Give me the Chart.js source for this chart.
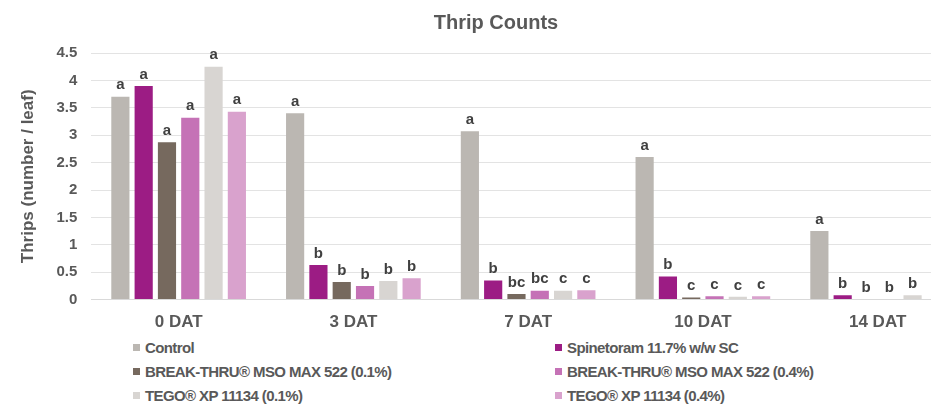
<!DOCTYPE html>
<html>
<head>
<meta charset="utf-8">
<script src="https://cdn.jsdelivr.net/npm/chart.js@4.4.0/dist/chart.umd.min.js"></script>
<style>
  html, body { margin: 0; padding: 0; background: #fff; overflow: hidden; }
  body { width: 931px; height: 407px; position: relative; }
  #wrap { position: absolute; left: 0; top: 0; width: 975px; height: 338px; }
  #title {
    position: absolute; left: 0; top: 11px; width: 992px; text-align: center;
    font: bold 20px "Liberation Sans", Arial, sans-serif; color: #595959;
  }
  .leg {
    position: absolute; font: bold 15px "Liberation Sans", Arial, sans-serif;
    letter-spacing: -0.6px; color: #595959; white-space: nowrap; line-height: 18px;
  }
  .leg i { display: inline-block; width: 7px; height: 7px; margin-right: 5px; vertical-align: 2px; }
</style>
</head>
<body>
<div id="wrap"><canvas id="chart"></canvas></div>
<div id="title">Thrip Counts</div>
<div id="legend"></div>
<script>
  // categories and series (thrips per leaf)
  const categories = ["0 DAT", "3 DAT", "7 DAT", "10 DAT", "14 DAT"];
  const seriesNames = [
    "Control",
    "Spinetoram 11.7% w/w SC",
    "BREAK-THRU\u00AE MSO MAX 522 (0.1%)",
    "BREAK-THRU\u00AE MSO MAX 522 (0.4%)",
    "TEGO\u00AE XP 11134 (0.1%)",
    "TEGO\u00AE XP 11134 (0.4%)"
  ];
  const seriesColors = ["#bbb7b2", "#9c1c84", "#76695e", "#c572b6", "#d8d5d2", "#d9a2cd"];

  const control      = [3.70, 3.40, 3.07, 2.60, 1.25];
  const spinetoram   = [3.90, 0.63, 0.35, 0.42, 0.08];
  const breakThru01  = [2.87, 0.32, 0.10, 0.04, 0.00];
  const breakThru04  = [3.32, 0.25, 0.16, 0.06, 0.00];
  const tego01       = [4.25, 0.34, 0.16, 0.05, 0.08];
  const tego04       = [3.43, 0.39, 0.17, 0.06, 0.00];

  // significance letters above each bar
  const lettersControl    = ["a", "a", "a", "a", "a"];
  const lettersSpinetoram = ["a", "b", "b", "b", "b"];
  const lettersBT01       = ["a", "b", "bc", "c", "b"];
  const lettersBT04       = ["a", "b", "bc", "c", "b"];
  const lettersTego01     = ["a", "b", "c", "c", "b"];
  const lettersTego04     = ["a", "b", "c", "c", "b"];

  const yTicks = [0, 0.5, 1, 1.5, 2, 2.5, 3, 3.5, 4, 4.5];
  const yTickLabels = ["0", "0.5", "1", "1.5", "2", "2.5", "3", "3.5", "4", "4.5"];

  const values = [control, spinetoram, breakThru01, breakThru04, tego01, tego04];
  const letters = [lettersControl, lettersSpinetoram, lettersBT01, lettersBT04, lettersTego01, lettersTego04];

  const letterPlugin = {
    id: "letters",
    afterDatasetsDraw(chart) {
      const ctx = chart.ctx;
      ctx.save();
      ctx.font = "bold 15px 'Liberation Sans', Arial, sans-serif";
      ctx.fillStyle = "#404040";
      ctx.textAlign = "center";
      ctx.textBaseline = "bottom";
      chart.data.datasets.forEach((ds, i) => {
        chart.getDatasetMeta(i).data.forEach((bar, j) => {
          ctx.fillText(letters[i][j], bar.x, bar.y - 4);
        });
      });
      ctx.restore();
    }
  };

  new Chart(document.getElementById("chart"), {
    type: "bar",
    data: {
      labels: categories,
      datasets: values.map((v, i) => ({
        label: seriesNames[i],
        data: v,
        backgroundColor: seriesColors[i],
        borderWidth: 0,
        categoryPercentage: 0.8,
        barPercentage: 0.78
      }))
    },
    options: {
      responsive: true,
      maintainAspectRatio: false,
      animation: false,
      layout: { padding: { top: 53, right: 10, left: 18, bottom: 0 } },
      plugins: {
        legend: { display: false },
        tooltip: { enabled: false }
      },
      scales: {
        x: {
          grid: { display: false },
          border: { color: "#d9d9d9" },
          ticks: {
            color: "#595959",
            padding: 5,
            font: { family: "'Liberation Sans', Arial, sans-serif", size: 17, weight: "bold" }
          }
        },
        y: {
          min: 0,
          max: 4.5,
          afterBuildTicks: (axis) => { axis.ticks = yTicks.map((v) => ({ value: v })); },
          grid: { color: "#e3e3e3", drawTicks: false },
          border: { display: false },
          ticks: {
            color: "#595959",
            padding: 14,
            callback: (val) => yTickLabels[yTicks.indexOf(val)],
            font: { family: "'Liberation Sans', Arial, sans-serif", size: 15, weight: "bold" }
          },
          title: {
            display: true,
            text: "Thrips (number / leaf)",
            color: "#595959",
            padding: { top: 0, bottom: 4 },
            font: { family: "'Liberation Sans', Arial, sans-serif", size: 17, weight: "bold" }
          }
        }
      }
    },
    plugins: [letterPlugin]
  });

  // two-column legend under the chart
  const legendPos = [
    [133, 339], [555, 339],
    [133, 363], [555, 363],
    [133, 387], [555, 387]
  ];
  const legendEl = document.getElementById("legend");
  seriesNames.forEach((name, i) => {
    const d = document.createElement("div");
    d.className = "leg";
    d.style.left = legendPos[i][0] + "px";
    d.style.top = legendPos[i][1] + "px";
    d.innerHTML = '<i style="background:' + seriesColors[i] + '"></i>' + name;
    legendEl.appendChild(d);
  });
</script>
</body>
</html>
